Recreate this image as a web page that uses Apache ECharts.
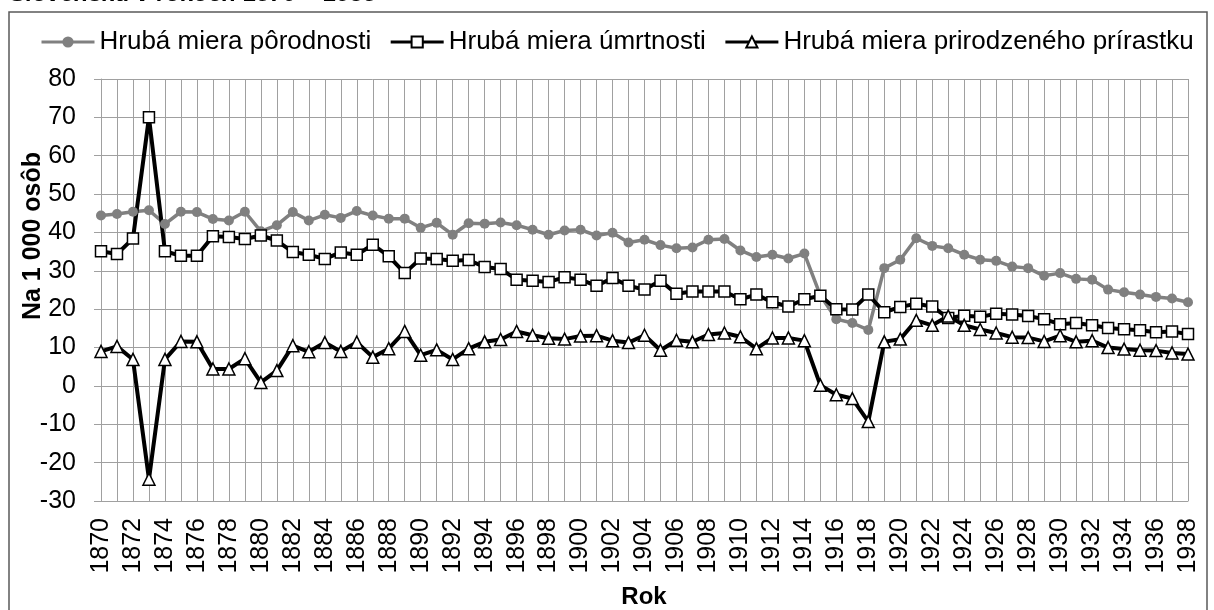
<!DOCTYPE html>
<html>
<head>
<meta charset="utf-8">
<script src="https://cdn.jsdelivr.net/npm/echarts@6/dist/echarts.min.js"></script>
<style>
  html, body { margin: 0; padding: 0; background: #fff; }
  #chart { width: 1214px; height: 610px; }
</style>
</head>
<body>
<div id="chart"></div>
<script>
// roky
var years = ['1870','1871','1872','1873','1874','1875','1876','1877','1878','1879',
  '1880','1881','1882','1883','1884','1885','1886','1887','1888','1889',
  '1890','1891','1892','1893','1894','1895','1896','1897','1898','1899',
  '1900','1901','1902','1903','1904','1905','1906','1907','1908','1909',
  '1910','1911','1912','1913','1914','1915','1916','1917','1918','1919',
  '1920','1921','1922','1923','1924','1925','1926','1927','1928','1929',
  '1930','1931','1932','1933','1934','1935','1936','1937','1938'];

// hruba miera porodnosti
var birthRate = [44.4, 44.8, 45.4, 45.8, 42.2, 45.4, 45.3, 43.5, 43.1, 45.4,
  40.3, 41.9, 45.3, 43.1, 44.6, 43.8, 45.6, 44.4, 43.6, 43.6,
  41.2, 42.5, 39.4, 42.4, 42.3, 42.6, 41.9, 40.7, 39.4, 40.5,
  40.7, 39.2, 39.9, 37.4, 38.1, 36.7, 35.9, 36.1, 38.1, 38.3,
  35.3, 33.6, 34.2, 33.2, 34.5, 23.6, 17.4, 16.4, 14.6, 30.7,
  32.9, 38.5, 36.5, 35.9, 34.2, 32.9, 32.6, 31.1, 30.7, 28.7,
  29.4, 27.9, 27.7, 25.1, 24.4, 23.8, 23.2, 22.8, 21.8];

// hruba miera umrtnosti
var deathRate = [35.1, 34.4, 38.4, 70.0, 35.1, 33.9, 33.9, 39.0, 38.8, 38.3,
  39.2, 37.9, 34.9, 34.2, 33.1, 34.8, 34.2, 36.8, 33.8, 29.4,
  33.2, 33.1, 32.6, 32.8, 31.0, 30.5, 27.7, 27.4, 27.1, 28.3,
  27.7, 26.1, 28.1, 26.1, 25.1, 27.4, 24.0, 24.6, 24.6, 24.6,
  22.6, 23.8, 21.8, 20.7, 22.6, 23.5, 20.0, 19.9, 23.8, 19.2,
  20.6, 21.4, 20.7, 17.7, 18.3, 18.0, 18.8, 18.6, 18.2, 17.4,
  16.1, 16.4, 15.8, 15.1, 14.8, 14.5, 14.0, 14.2, 13.5];

// hruba miera prirodzeneho prirastku
var naturalIncrease = [9.0, 10.3, 6.9, -24.3, 6.9, 11.6, 11.5, 4.4, 4.4, 7.1,
  0.9, 4.0, 10.5, 8.9, 11.3, 9.0, 11.4, 7.5, 9.7, 14.2,
  8.0, 9.4, 6.9, 9.7, 11.5, 12.1, 14.2, 13.2, 12.4, 12.2,
  13.0, 13.1, 11.8, 11.3, 13.2, 9.3, 11.9, 11.5, 13.4, 13.8,
  12.8, 9.7, 12.5, 12.5, 11.8, 0.2, -2.3, -3.3, -9.3, 11.5,
  12.2, 17.1, 15.8, 18.2, 15.8, 14.7, 13.8, 12.7, 12.6, 11.6,
  13.1, 11.5, 11.8, 10.0, 9.6, 9.3, 9.2, 8.6, 8.3];

var font = 'Arial, "Liberation Sans", sans-serif';
var gridColor = '#a0a0a0';

var myChart = echarts.init(document.getElementById('chart'));

var option = {
  animation: false,
  textStyle: { fontFamily: font, color: '#000' },
  graphic: [
    {
      type: 'rect',
      shape: { x: 9, y: 12, width: 1198, height: 620 },
      style: { fill: 'none', stroke: '#595959', lineWidth: 1.5 },
      silent: true
    },
    {
      type: 'text',
      x: 10, y: 6,
      style: {
        text: 'Slovensku v rokoch 1870 – 1938',
        font: 'italic bold 24px ' + font,
        fill: '#000',
        verticalAlign: 'bottom'
      }
    },
    {
      type: 'text',
      x: 33, y: 236,
      rotation: Math.PI / 2,
      style: {
        text: 'Na 1 000 osôb',
        font: 'bold 25px ' + font,
        fill: '#000',
        align: 'center',
        verticalAlign: 'middle'
      }
    },
    {
      type: 'text',
      x: 644, y: 597,
      style: {
        text: 'Rok',
        font: 'bold 24px ' + font,
        fill: '#000',
        align: 'center',
        verticalAlign: 'middle'
      }
    }
  ],
  legend: {
    left: 40,
    top: 29,
    width: 1172,
    padding: 0,
    itemWidth: 53,
    itemHeight: 14,
    itemGap: 18,
    lineStyle: { width: 3 },
    textStyle: { fontSize: 26, fontFamily: font, color: '#000' },
    data: ['Hrubá miera pôrodnosti', 'Hrubá miera úmrtnosti', 'Hrubá miera prirodzeného prírastku']
  },
  grid: { left: 101, right: 26, top: 79, bottom: 109, containLabel: false },
  xAxis: {
    type: 'category',
    data: years,
    boundaryGap: false,
    axisLine: { onZero: false, lineStyle: { color: gridColor, width: 1 } },
    axisTick: { show: false },
    axisLabel: {
      interval: 1,
      rotate: 90,
      margin: 17,
      fontSize: 25,
      color: '#000',
      fontFamily: font
    },
    splitLine: { show: true, interval: 0, lineStyle: { color: gridColor, width: 1 } }
  },
  yAxis: {
    type: 'value',
    min: -30,
    max: 80,
    interval: 10,
    axisLine: { show: true, lineStyle: { color: gridColor, width: 1 } },
    axisTick: { show: true, length: 7, lineStyle: { color: gridColor } },
    axisLabel: { fontSize: 25, margin: 25, color: '#000', fontFamily: font },
    splitLine: { show: true, lineStyle: { color: gridColor, width: 1 } }
  },
  series: [
    {
      name: 'Hrubá miera pôrodnosti',
      type: 'line',
      data: birthRate,
      symbol: 'circle',
      symbolSize: 10,
      showAllSymbol: true,
      lineStyle: { color: '#808080', width: 3.5 },
      itemStyle: { color: '#808080', borderColor: '#808080', borderWidth: 0 }
    },
    {
      name: 'Hrubá miera úmrtnosti',
      type: 'line',
      data: deathRate,
      symbol: 'rect',
      symbolSize: 11,
      showAllSymbol: true,
      lineStyle: { color: '#000', width: 4 },
      itemStyle: { color: '#fff', borderColor: '#000', borderWidth: 1.5 }
    },
    {
      name: 'Hrubá miera prirodzeného prírastku',
      type: 'line',
      data: naturalIncrease,
      symbol: 'triangle',
      symbolSize: 12,
      showAllSymbol: true,
      lineStyle: { color: '#000', width: 4 },
      itemStyle: { color: '#fff', borderColor: '#000', borderWidth: 1.5 }
    }
  ]
};

myChart.setOption(option);
</script>
</body>
</html>
